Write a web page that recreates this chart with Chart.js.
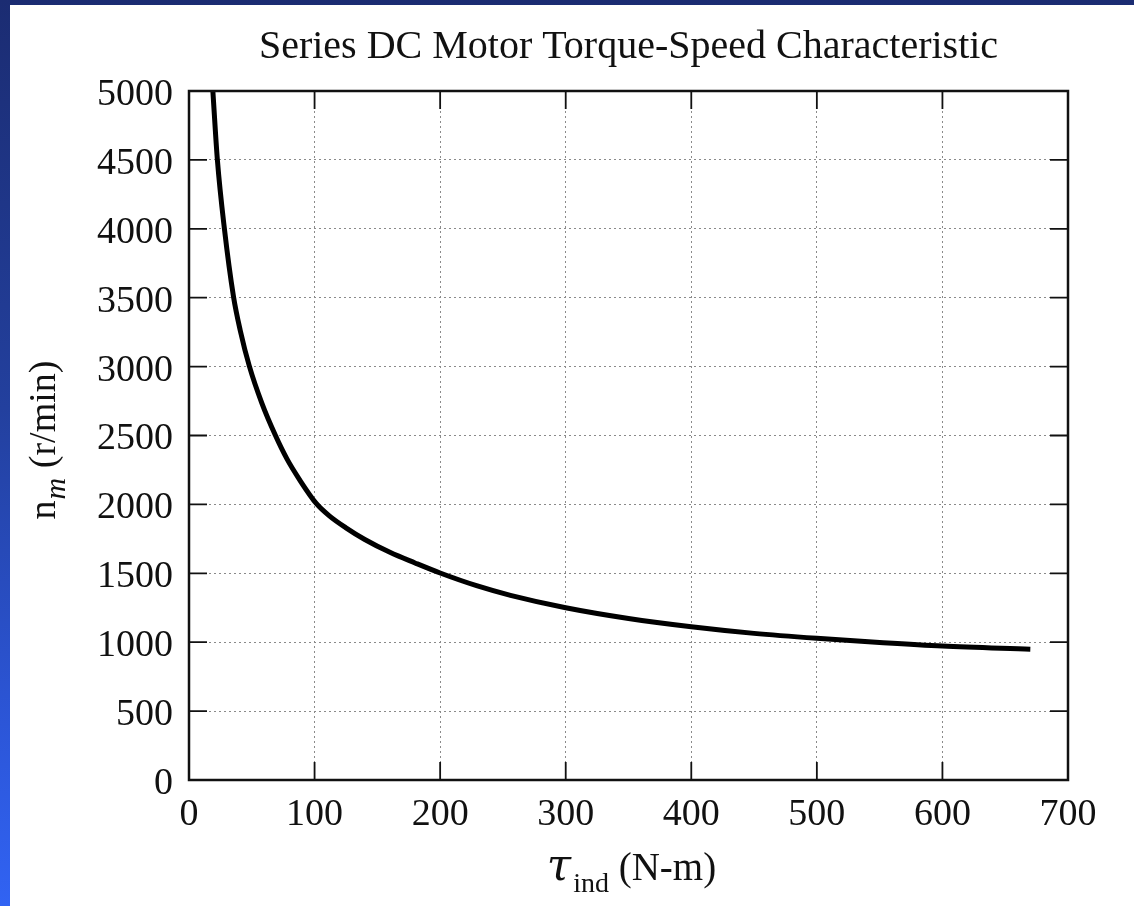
<!DOCTYPE html>
<html>
<head>
<meta charset="utf-8">
<script src="https://cdn.jsdelivr.net/npm/chart.js@4.4.1/dist/chart.umd.min.js"></script>
<style>
  html, body { margin: 0; padding: 0; }
  body {
    width: 1134px; height: 906px; overflow: hidden;
    background: linear-gradient(180deg, #1b2c72 0%, #23409e 45%, #2c56d8 80%, #3163f3 100%);
  }
  #paper { position: absolute; left: 10px; top: 5px; width: 1124px; height: 901px; background: #fff; }
  canvas { display: block; }
</style>
</head>
<body>
<div id="paper"><canvas id="grafico" width="1124" height="901"></canvas></div>
<script>
// dados
const torque = [19, 22.6, 28.2, 35.4, 41, 48, 58, 68.6, 78, 88, 101.5, 112, 125, 140, 160, 180, 200, 229, 256, 300, 350, 400, 450, 500, 550, 600, 670];
const velocidade = [5000, 4500, 4000, 3510, 3255, 3005, 2735, 2505, 2330, 2180, 2005, 1915, 1830, 1745, 1652, 1575, 1502, 1410, 1340, 1250, 1172, 1112, 1064, 1028, 998, 972, 948];
const ticksX = [0, 100, 200, 300, 400, 500, 600, 700];
const ticksY = [0, 500, 1000, 1500, 2000, 2500, 3000, 3500, 4000, 4500, 5000];

const titulo = 'Series DC Motor Torque-Speed Characteristic';
const FONTE = "'Liberation Serif', 'Times New Roman', serif";
const TICK = 18;

var pontos = torque.map(function (t, i) { return {x: t, y: velocidade[i]}; });

// moldura, marcas internas e titulos dos eixos
const moldura = {
  id: 'moldura',
  afterDatasetsDraw(chart) {
    const ctx = chart.ctx;
    const a = chart.chartArea;
    const x = chart.scales.x, y = chart.scales.y;
    ctx.save();
    ctx.strokeStyle = '#111';
    ctx.lineWidth = 2.5;
    ctx.strokeRect(a.left, a.top, a.right - a.left, a.bottom - a.top);
    ctx.lineWidth = 1.8;
    ctx.beginPath();
    ticksX.forEach(function (v) {
      var px = x.getPixelForValue(v);
      ctx.moveTo(px, a.bottom); ctx.lineTo(px, a.bottom - TICK);
      ctx.moveTo(px, a.top); ctx.lineTo(px, a.top + TICK);
    });
    ticksY.forEach(function (v) {
      var py = y.getPixelForValue(v);
      ctx.moveTo(a.left, py); ctx.lineTo(a.left + TICK, py);
      ctx.moveTo(a.right, py); ctx.lineTo(a.right - TICK, py);
    });
    ctx.stroke();

    ctx.fillStyle = '#111';
    ctx.textBaseline = 'alphabetic';
    ctx.textAlign = 'left';

    // eixo x: tau_ind (N-m)
    var f1 = "italic 44px 'DejaVu Serif', serif", f2 = '28px ' + FONTE, f3 = '39px ' + FONTE;
    ctx.font = f1; var w1 = ctx.measureText('\u03C4').width;
    ctx.font = f2; var w2 = ctx.measureText('ind').width;
    ctx.font = f3; var w3 = ctx.measureText(' (N-m)').width;
    var cx = (a.left + a.right) / 2 + 3;
    var sx = cx - (w1 + w2 + 2 + w3) / 2;
    var base = a.bottom + 100;
    ctx.font = f1; ctx.fillText('\u03C4', sx, base);
    ctx.font = f2; ctx.fillText('ind', sx + w1 + 2, base + 12);
    ctx.font = f3; ctx.fillText(' (N-m)', sx + w1 + 2 + w2, base);

    // eixo y: n_m (r/min)
    var g1 = '38px ' + FONTE, g2 = 'italic 30px ' + FONTE;
    ctx.font = g1; var v1 = ctx.measureText('n').width;
    ctx.font = g2; var v2 = ctx.measureText('m').width;
    ctx.font = g1; var v3 = ctx.measureText(' (r/min)').width;
    ctx.translate(45, (a.top + a.bottom) / 2 + 5);
    ctx.rotate(-Math.PI / 2);
    var sy = -(v1 + v2 + v3) / 2;
    ctx.font = g1; ctx.fillText('n', sy, 0);
    ctx.font = g2; ctx.fillText('m', sy + v1 + 1, 10);
    ctx.font = g1; ctx.fillText(' (r/min)', sy + v1 + 1 + v2, 0);
    ctx.restore();
  }
};

var grade = {
  color: '#8a8a8a',
  lineWidth: 1,
  drawTicks: false
};

function rotulo(v) { return String(v); }

new Chart(document.getElementById('grafico'), {
  type: 'scatter',
  data: {
    datasets: [{
      data: pontos,
      showLine: true,
      borderColor: '#000',
      borderWidth: 5,
      pointRadius: 0,
      cubicInterpolationMode: 'monotone',
      fill: false
    }]
  },
  options: {
    responsive: false,
    animation: false,
    devicePixelRatio: 1,
    layout: { padding: { left: 0, right: 66, top: 0, bottom: 0 } },
    plugins: {
      legend: { display: false },
      tooltip: { enabled: false },
      title: {
        display: true,
        text: titulo,
        fullSize: false,
        color: '#111',
        font: { family: FONTE, size: 40, weight: 'normal' },
        padding: { top: 18, bottom: 20 }
      }
    },
    scales: {
      x: {
        type: 'linear',
        min: 0, max: 700,
        afterBuildTicks: function (s) { s.ticks = ticksX.map(function (v) { return {value: v}; }); },
        afterFit: function (s) { s.height = 126; },
        grid: Object.assign({}, grade),
        border: { display: false, dash: [2, 3] },
        ticks: { color: '#111', padding: 12, maxRotation: 0, callback: rotulo, font: { family: FONTE, size: 38 } }
      },
      y: {
        type: 'linear',
        min: 0, max: 5000,
        afterBuildTicks: function (s) { s.ticks = ticksY.map(function (v) { return {value: v}; }); },
        afterFit: function (s) { s.width = 179; },
        grid: Object.assign({}, grade),
        border: { display: false, dash: [2, 3] },
        ticks: { color: '#111', padding: 16, labelOffset: 4, callback: rotulo, font: { family: FONTE, size: 38 } }
      }
    }
  },
  plugins: [moldura]
});
</script>
</body>
</html>
